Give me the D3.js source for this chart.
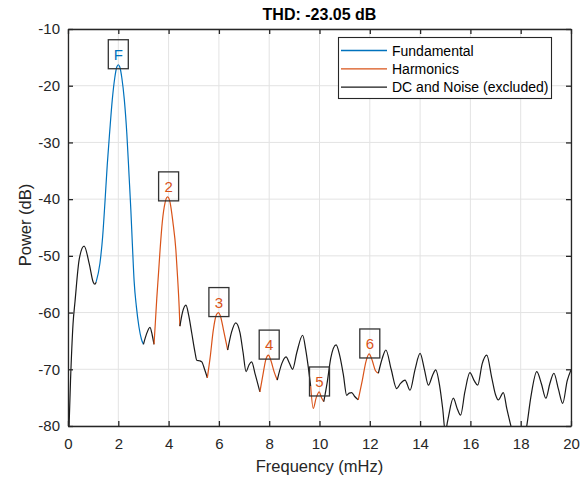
<!DOCTYPE html>
<html>
<head>
<meta charset="utf-8">
<script src="https://cdn.jsdelivr.net/npm/d3@7"></script>
<style>
  body { margin: 0; background: #fff; }
  svg { font-family: "Liberation Sans", Arial, sans-serif; }
</style>
</head>
<body>
<svg id="mainsvg" width="587" height="480"></svg>
<script>
// spectrum pieces, [frequency (mHz), power (dB)]
const dcNoise0 = [[0,-86],[0.1,-72],[0.2,-62],[0.28,-58],[0.45,-50.5],[0.64,-48.3],[0.85,-51.5],[1.0,-54.6],[1.07,-55],[1.12,-54.6]];
const fundamental = [[1.12,-54.6],[1.27,-51.3],[1.38,-46.5],[1.47,-40.5],[1.56,-34],[1.66,-28],[1.76,-22.5],[1.86,-18.6],[1.94,-16.7],[2.0,-16.3],
  [2.06,-16.7],[2.14,-18.6],[2.24,-22.5],[2.34,-28.5],[2.43,-36],[2.5,-42],[2.56,-48],[2.63,-54.5],[2.72,-59],[2.82,-62.5],[2.92,-64.7],[3.0,-65.6]];
const dcNoise1 = [[3.0,-65.6],[3.12,-63.8],[3.26,-62.6],[3.35,-64],[3.42,-65.6]];
const harmonic2 = [[3.42,-65.6],[3.47,-62],[3.53,-57.5],[3.6,-53],[3.66,-49],[3.75,-44],[3.86,-40.6],[3.96,-39.6],[4.06,-40.6],[4.17,-44],[4.29,-49],[4.36,-54],[4.42,-59],[4.45,-62.4]];
const dcNoise2 = [[4.45,-62.4],[4.55,-60],[4.69,-58.7],[4.8,-60.5],[4.92,-63.6],[5.05,-67],[5.12,-68.4],[5.22,-68.5],[5.32,-68.7],[5.43,-70],[5.54,-71.5]];
const harmonic3 = [[5.54,-71.5],[5.65,-68],[5.78,-63],[5.9,-60.4],[5.98,-60],[6.06,-60.6],[6.18,-63],[6.35,-66.6]];
const dcNoise3 = [[6.35,-66.6],[6.5,-63.5],[6.67,-61.8],[6.84,-63.6],[6.96,-67],[7.08,-70.4],[7.2,-69.2],[7.3,-68.7],[7.45,-71],[7.63,-74]];
const harmonic4 = [[7.63,-74],[7.75,-71],[7.87,-68.2],[7.97,-67.5],[8.07,-68.5],[8.2,-70.5],[8.32,-71.9]];
const dcNoise4 = [[8.32,-71.9],[8.5,-69],[8.67,-67.8],[8.8,-68.9],[8.93,-70],[9.1,-67],[9.33,-64],[9.45,-66.5],[9.55,-69.5],[9.65,-73]];
const harmonic5 = [[9.65,-73],[9.75,-76.9],[9.87,-75],[9.99,-74],[10.08,-75],[10.17,-75.7]];
const dcNoise5 = [[10.17,-75.7],[10.3,-72.5],[10.45,-68],[10.66,-65.7],[10.8,-67.5],[10.95,-71],[11.08,-74.6],[11.18,-74.2],[11.28,-74.1],[11.4,-74.8],[11.54,-75.4]];
const harmonic6 = [[11.54,-75.4],[11.7,-72],[11.85,-68.6],[11.97,-67.3],[12.1,-68.5],[12.22,-70.2],[12.34,-70.7]];
const dcNoise6 = [[12.34,-70.7],[12.5,-68],[12.64,-66.6],[12.85,-70],[13.07,-73.4],[13.22,-72.5],[13.4,-71.9],[13.6,-73.7],[13.8,-70],[14.0,-67.2],
  [14.17,-70],[14.33,-72.8],[14.5,-71],[14.62,-70.1],[14.78,-73],[14.9,-77],[15.0,-81],[15.1,-79],[15.32,-75.1],[15.48,-77],[15.61,-78.1],
  [15.78,-74],[15.98,-70.6],[16.15,-72],[16.29,-72.8],[16.47,-69],[16.65,-67.5],[16.85,-71.5],[17.0,-74.5],[17.11,-75.4],[17.31,-74.1],
  [17.45,-77],[17.61,-80],[17.9,-85],[18.24,-80],[18.4,-75],[18.64,-70.4],[18.82,-72.5],[19.0,-75.1],[19.16,-72.5],[19.32,-70.7],
  [19.5,-73.5],[19.67,-76],[19.85,-72],[20.0,-70.1]];

const peakLabels = ['F','2','3','4','5','6'];
const peakFreqs = [2, 4, 6, 8, 10, 12];
const peakPowers = [-16.3, -39.6, -60, -67.5, -74, -67.3];

const xTicks = [0,2,4,6,8,10,12,14,16,18,20];
const yTicks = [-80,-70,-60,-50,-40,-30,-20,-10];
const legendNames = ['Fundamental','Harmonics','DC and Noise (excluded)'];

const blue = '#0072BD', orange = '#D95319', black = '#1a1a1a', axisColor = '#262626';

const svg = d3.select('#mainsvg');
const margin = {top: 29, right: 16, bottom: 54, left: 68};
const width = +svg.attr('width');
const height = +svg.attr('height');
const innerWidth = width - margin.left - margin.right;
const innerHeight = height - margin.top - margin.bottom;

const chartGroup = svg.append('g').attr('transform', `translate(${margin.left}, ${margin.top})`);

const xScale = d3.scaleLinear().domain([0, 20]).range([0, innerWidth]);
const yScale = d3.scaleLinear().domain([-80, -10]).range([innerHeight, 0]);

// grid
chartGroup.append('g')
  .selectAll('line.vgrid').data(xTicks).join('line')
  .attr('x1', d => xScale(d)).attr('x2', d => xScale(d))
  .attr('y1', 0).attr('y2', innerHeight)
  .attr('stroke', '#e3e3e3').attr('stroke-width', 1);
chartGroup.append('g')
  .selectAll('line.hgrid').data(yTicks).join('line')
  .attr('y1', d => yScale(d)).attr('y2', d => yScale(d))
  .attr('x1', 0).attr('x2', innerWidth)
  .attr('stroke', '#e3e3e3').attr('stroke-width', 1);

// curves
svg.append('defs').append('clipPath').attr('id', 'plotclip')
  .append('rect').attr('width', innerWidth).attr('height', innerHeight);

const line = d3.line()
  .x(d => xScale(d[0]))
  .y(d => yScale(d[1]))
  .curve(d3.curveMonotoneX);

const segments = [
  {pts: dcNoise0, color: black}, {pts: fundamental, color: blue},
  {pts: dcNoise1, color: black}, {pts: harmonic2, color: orange},
  {pts: dcNoise2, color: black}, {pts: harmonic3, color: orange},
  {pts: dcNoise3, color: black}, {pts: harmonic4, color: orange},
  {pts: dcNoise4, color: black}, {pts: harmonic5, color: orange},
  {pts: dcNoise5, color: black}, {pts: harmonic6, color: orange},
  {pts: dcNoise6, color: black}
];

chartGroup.append('g').attr('clip-path', 'url(#plotclip)')
  .selectAll('path').data(segments).join('path')
  .attr('d', d => line(d.pts))
  .attr('fill', 'none')
  .attr('stroke', d => d.color)
  .attr('stroke-width', 1.2)
  .attr('stroke-linejoin', 'round');

// axes
const fmt = d => String(d);
const xAxis = chartGroup.append('g')
  .attr('transform', `translate(0, ${innerHeight})`)
  .call(d3.axisBottom(xScale).tickValues(xTicks).tickSize(-5).tickSizeOuter(0).tickPadding(12).tickFormat(fmt));
const yAxis = chartGroup.append('g')
  .call(d3.axisLeft(yScale).tickValues(yTicks).tickSize(-5).tickSizeOuter(0).tickPadding(8).tickFormat(fmt));
const topAxis = chartGroup.append('g')
  .call(d3.axisTop(xScale).tickValues(xTicks).tickSize(-5).tickSizeOuter(0));
const rightAxis = chartGroup.append('g')
  .attr('transform', `translate(${innerWidth}, 0)`)
  .call(d3.axisRight(yScale).tickValues(yTicks).tickSize(-5).tickSizeOuter(0));
topAxis.selectAll('text').remove();
rightAxis.selectAll('text').remove();

chartGroup.selectAll('.domain').attr('stroke', axisColor).attr('stroke-width', 1.3);
chartGroup.selectAll('.tick line').attr('stroke', axisColor).attr('stroke-width', 1.3);
[xAxis, yAxis].forEach(a => a.selectAll('text')
  .style('font-size', '15px').attr('fill', axisColor)
  .style('font-family', '"Liberation Sans", Arial, sans-serif'));

// labels
chartGroup.append('text')
  .attr('x', innerWidth / 2)
  .attr('y', innerHeight + 46)
  .style('text-anchor', 'middle')
  .style('font-size', '16.5px')
  .attr('fill', axisColor)
  .text('Frequency (mHz)');

chartGroup.append('text')
  .attr('transform', 'rotate(-90)')
  .attr('x', -196)
  .attr('y', -37)
  .style('text-anchor', 'middle')
  .style('font-size', '16.5px')
  .attr('fill', axisColor)
  .text('Power (dB)');

svg.append('text')
  .attr('x', margin.left + innerWidth / 2)
  .attr('y', 20)
  .style('text-anchor', 'middle')
  .style('font-size', '16px')
  .style('font-weight', 'bold')
  .attr('fill', '#000')
  .text('THD: -23.05 dB');

// peak markers
const marks = chartGroup.append('g').selectAll('g')
  .data(peakLabels.map((t, i) => ({t, f: peakFreqs[i], p: peakPowers[i], i})))
  .join('g')
  .attr('transform', d => `translate(${xScale(d.f)}, ${yScale(d.p) + 4})`);
marks.append('rect')
  .attr('x', -10).attr('y', -29).attr('width', 20).attr('height', 29)
  .attr('fill', 'none').attr('stroke', '#333').attr('stroke-width', 1.3);
marks.append('text')
  .attr('y', -9)
  .style('text-anchor', 'middle')
  .style('font-size', '15px')
  .attr('fill', d => d.i === 0 ? blue : orange)
  .text(d => d.t);

// legend
const legend = svg.append('g').attr('transform', `translate(${margin.left + innerWidth - 233}, ${margin.top + 8})`);
legend.append('rect')
  .attr('x', 0.5).attr('y', 0.5).attr('width', 213).attr('height', 61)
  .attr('fill', '#fff').attr('stroke', axisColor).attr('stroke-width', 1.1);
const legendColors = [blue, orange, black];
const rows = legend.selectAll('g.row').data(legendNames).join('g')
  .attr('transform', (d, i) => `translate(0, ${13.5 + i * 18.3})`);
rows.append('line')
  .attr('x1', 3).attr('x2', 49)
  .attr('stroke', (d, i) => legendColors[i]).attr('stroke-width', 1.3);
rows.append('text')
  .attr('x', 54).attr('y', 5)
  .style('font-size', '14px')
  .attr('fill', '#000')
  .text(d => d);
</script>
</body>
</html>
